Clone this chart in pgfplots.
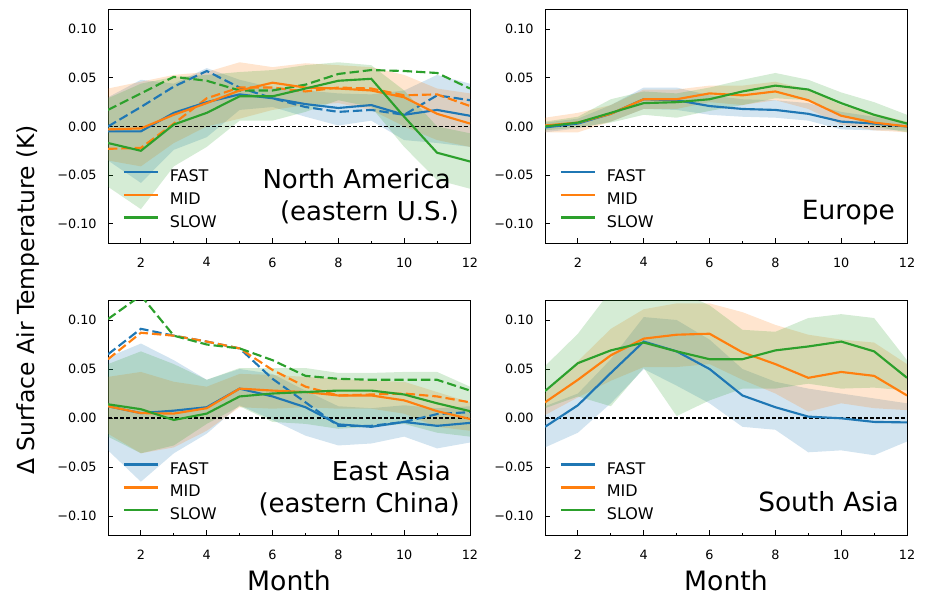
\documentclass[border=0pt]{standalone}
\usepackage{fontspec}
\setmainfont{DejaVu Sans}
\usepackage{pgfplots}
\usepackage{pgfplotstable}
\pgfplotsset{compat=1.18}
\usepgfplotslibrary{fillbetween}
\definecolor{cb}{HTML}{1F77B4}
\definecolor{co}{HTML}{FF7F0E}
\definecolor{cg}{HTML}{2CA02C}

\pgfplotstableread{
m  fa     falo   fahi  mi     milo   mihi  sl     sllo   slhi   fad    mid    sld
1  -0.005 -0.035 0.030 -0.003 -0.035 0.039 -0.017 -0.062 0.029  0.000 -0.023 0.017
2  -0.005 -0.058 0.048 -0.002 -0.041 0.046 -0.025 -0.085 0.044  0.020 -0.022 0.034
3  0.014  -0.024 0.044 0.012  -0.017 0.053 0.002  -0.041 0.051  0.041  0.003 0.051
4  0.025  -0.011 0.060 0.024  0.000  0.056 0.014  -0.021 0.053  0.057  0.029 0.047
5  0.033  0.017  0.048 0.037  0.008  0.066 0.031  0.006  0.056  0.040  0.040 0.037
6  0.029  0.020  0.040 0.045  0.017  0.061 0.031  0.006  0.058  0.029  0.040 0.037
7  0.023  0.010  0.037 0.040  0.022  0.065 0.039  0.015  0.063  0.020  0.036 0.043
8  0.019  0.001  0.034 0.039  0.024  0.063 0.047  0.027  0.066  0.015  0.040 0.054
9  0.022  0.006  0.033 0.037  0.017  0.061 0.049  0.020  0.063  0.017  0.039 0.058
10 0.012  -0.014 0.037 0.030  0.000  0.053 0.010  -0.021 0.037  0.012  0.032 0.057
11 0.017  -0.017 0.053 0.013  -0.014 0.039 -0.027 -0.055 0.000  0.032  0.033 0.055
12 0.011  -0.021 0.044 0.003  -0.021 0.034 -0.036 -0.064 -0.007 0.027  0.021 0.039
}\tabNA

\pgfplotstableread{
m  fa     falo   fahi  mi    milo   mihi  sl    sllo   slhi
1  -0.001 -0.006 0.004 0.001 -0.006 0.009 0.000 -0.004 0.005
2  0.003  -0.002 0.008 0.004 -0.006 0.014 0.004 -0.001 0.010
3  0.013  0.005  0.022 0.013 0.005  0.022 0.014 0.004  0.028
4  0.028  0.018  0.040 0.028 0.018  0.038 0.024 0.012  0.036
5  0.027  0.017  0.040 0.028 0.018  0.038 0.025 0.009  0.034
6  0.021  0.012  0.032 0.034 0.025  0.042 0.028 0.016  0.040
7  0.018  0.010  0.028 0.032 0.022  0.042 0.036 0.022  0.048
8  0.017  0.009  0.027 0.036 0.027  0.046 0.042 0.029  0.055
9  0.013  0.006  0.024 0.027 0.018  0.038 0.038 0.027  0.048
10 0.005  -0.003 0.015 0.011 0.002  0.022 0.024 0.012  0.035
11 0.003  -0.004 0.010 0.004 -0.004 0.013 0.012 0.000  0.025
12 0.000  -0.004 0.004 0.000 -0.006 0.005 0.003 -0.006 0.012
}\tabEU

\pgfplotstableread{
m  fa      falo   fahi  mi      milo   mihi   sl      sllo   slhi  fad    mid   sld
1  0.012   -0.033 0.062 0.012   -0.016 0.042  0.014   -0.019 0.055 0.065  0.060 0.101
2  0.005   -0.065 0.076 0.005   -0.036 0.047  0.009   -0.036 0.068 0.091  0.087 0.125
3  0.0075  -0.036 0.059 0.0045  -0.030 0.037  -0.002  -0.028 0.055 0.084  0.084 0.084
4  0.011   -0.016 0.039 0.010   -0.013 0.032  0.0045  -0.006 0.039 0.078  0.078 0.075
5  0.030   0.013  0.050 0.030   0.011  0.045  0.022   0.012  0.051 0.071  0.071 0.071
6  0.022   -0.002 0.045 0.028   0.0095 0.044  0.025   -0.004 0.051 0.040  0.049 0.059
7  0.011   -0.018 0.028 0.0265  0.011  0.042  0.0265  -0.006 0.051 0.016  0.032 0.043
8  -0.0065 -0.028 0.012 0.023   0.0095 0.040  0.028   -0.011 0.046 -0.008 0.023 0.040
9  -0.009  -0.026 0.010 0.023   0.0095 0.038  0.028   -0.009 0.046 -0.008 0.024 0.039
10 -0.004  -0.019 0.013 0.018   0.0044 0.037  0.024   -0.006 0.047 -0.004 0.025 0.039
11 -0.008  -0.031 0.010 0.007   -0.009 0.0265 0.015   -0.015 0.047 0.004  0.022 0.039
12 -0.005  -0.025 0.012 -0.001  -0.013 0.016  0.007   -0.019 0.032 0.006  0.016 0.028
}\tabEA

\pgfplotstableread{
m  fa      falo   fahi  mi    milo  mihi  sl     sllo  slhi
1  -0.009  -0.030 0.012 0.016 0.003 0.025 0.0275 0.010 0.053
2  0.013   -0.015 0.025 0.039 0.021 0.058 0.056  0.022 0.086
3  0.046   0.015  0.060 0.064 0.038 0.091 0.069  0.012 0.130
4  0.078   0.050  0.103 0.081 0.052 0.111 0.077  0.051 0.130
5  0.068   0.033  0.100 0.085 0.052 0.117 0.068  0.002 0.130
6  0.050   0.015  0.080 0.086 0.055 0.117 0.060  0.018 0.115
7  0.023   -0.009 0.050 0.067 0.039 0.108 0.060  0.030 0.090
8  0.011   -0.012 0.037 0.055 0.025 0.095 0.069  0.030 0.088
9  0.0014  -0.035 0.030 0.041 0.0065 0.085 0.073 0.035 0.102
10 -0.0003 -0.033 0.025 0.047 0.015 0.080 0.078  0.030 0.106
11 -0.004  -0.038 0.020 0.043 0.010 0.077 0.068  0.031 0.102
12 -0.0045 -0.024 0.015 0.023 0.008 0.055 0.041  0.028 0.059
}\tabSA

\newcommand{\bands}[1]{%
  \addplot[draw=none, name path=fahi, forget plot] table[x=m,y=fahi]{#1};
  \addplot[draw=none, name path=falo, forget plot] table[x=m,y=falo]{#1};
  \addplot[fill=cb, fill opacity=0.2, draw=none, forget plot] fill between[of=fahi and falo];
  \addplot[draw=none, name path=mihi, forget plot] table[x=m,y=mihi]{#1};
  \addplot[draw=none, name path=milo, forget plot] table[x=m,y=milo]{#1};
  \addplot[fill=co, fill opacity=0.2, draw=none, forget plot] fill between[of=mihi and milo];
  \addplot[draw=none, name path=slhi, forget plot] table[x=m,y=slhi]{#1};
  \addplot[draw=none, name path=sllo, forget plot] table[x=m,y=sllo]{#1};
  \addplot[fill=cg, fill opacity=0.2, draw=none, forget plot] fill between[of=slhi and sllo];
  \addplot[black, line width=0.8pt, dash pattern=on 3pt off 1.6pt, forget plot] coordinates {(1,0) (12,0)};
}
\newcommand{\dashedlines}[1]{%
  \addplot[cb, line width=1.6pt, dash pattern=on 7pt off 3pt, forget plot] table[x=m,y=fad]{#1};
  \addplot[co, line width=1.6pt, dash pattern=on 7pt off 3pt, forget plot] table[x=m,y=mid]{#1};
  \addplot[cg, line width=1.6pt, dash pattern=on 7pt off 3pt, forget plot] table[x=m,y=sld]{#1};
}
\newcommand{\solidlines}[1]{%
  \addplot[cb, line width=1.6pt, forget plot] table[x=m,y=fa]{#1};
  \addplot[co, line width=1.6pt, forget plot] table[x=m,y=mi]{#1};
  \addplot[cg, line width=1.6pt, forget plot] table[x=m,y=sl]{#1};
}
\newcommand{\legendentries}{%
  \addlegendimage{cb, line width=1.9pt}\addlegendentry{FAST}
  \addlegendimage{co, line width=1.9pt}\addlegendentry{MID}
  \addlegendimage{cg, line width=1.9pt}\addlegendentry{SLOW}
}

\pgfplotsset{panel/.style={
  scale only axis, width=271.5pt,
  xmin=1, xmax=12, ymin=-0.12, ymax=0.12,
  xtick={2,4,...,12}, xticklabels={2,4,6,8,10,12},
  minor xtick={3,5,...,11},
  ytick={-0.1,-0.05,0,0.05,0.1},
  yticklabels={−0.10,−0.05,0.00,0.05,0.10},
  tick align=inside, tick pos=left,
  major tick length=4pt, minor tick length=2pt,
  every tick/.style={black, line width=0.75pt},
  axis line style={line width=0.75pt, black},
  ticklabel style={font=\fontsize{9.6}{11}\selectfont},
  yticklabel style={xshift=-5pt},
  xticklabel style={yshift=-7.3pt},
  legend cell align=left,
  legend image code/.code={\draw[##1] (0pt,3.6pt) -- (25.5pt,3.6pt);},
  legend style={draw=none, fill=none, at={(0,0)}, anchor=south west,
    xshift=11pt, yshift=10.3pt, inner sep=0pt, outer sep=0pt,
    row sep=6.75pt, column sep=8pt,
    font=\fontsize{12}{14}\selectfont, nodes={inner sep=0pt}},
}}

\begin{document}
\begin{tikzpicture}
\path (0,0) rectangle (693.75pt,-447pt);

% North America
\begin{axis}[panel, height=175.1pt, at={(81pt,-182.4pt)}, anchor=south west]
\legendentries
\bands{\tabNA}
\dashedlines{\tabNA}
\solidlines{\tabNA}
\node[anchor=base east, font=\fontsize{19.5}{23}\selectfont, inner sep=0pt, xshift=-14.25pt, yshift=41.25pt] at (rel axis cs:1,0) {North America};
\node[anchor=base east, font=\fontsize{19.5}{23}\selectfont, inner sep=0pt, xshift=-8pt, yshift=17.25pt] at (rel axis cs:1,0) {(eastern U.S.)};
\end{axis}

% Europe
\begin{axis}[panel, height=175.1pt, at={(408.75pt,-182.4pt)}, anchor=south west]
\legendentries
\bands{\tabEU}
\solidlines{\tabEU}
\node[anchor=base east, font=\fontsize{19.8}{23}\selectfont, inner sep=0pt, xshift=-9pt, yshift=18pt] at (rel axis cs:1,0) {Europe};
\end{axis}

% East Asia
\begin{axis}[panel, height=176.4pt, at={(81pt,-401.7pt)}, anchor=south west,
  xlabel={Month}, xlabel style={font=\fontsize{20}{24}\selectfont, at={(axis description cs:0.5,0)}, anchor=base, yshift=-41.5pt, inner sep=0pt}]
\legendentries
\bands{\tabEA}
\dashedlines{\tabEA}
\solidlines{\tabEA}
\node[anchor=base east, font=\fontsize{19.5}{23}\selectfont, inner sep=0pt, xshift=-14.25pt, yshift=41.25pt] at (rel axis cs:1,0) {East Asia};
\node[anchor=base east, font=\fontsize{19.5}{23}\selectfont, inner sep=0pt, xshift=-7.5pt, yshift=17.25pt] at (rel axis cs:1,0) {(eastern China)};
\end{axis}

% South Asia
\begin{axis}[panel, height=176.4pt, at={(408.75pt,-401.7pt)}, anchor=south west,
  xlabel={Month}, xlabel style={font=\fontsize{20}{24}\selectfont, at={(axis description cs:0.5,0)}, anchor=base, yshift=-41.5pt, inner sep=0pt}]
\legendentries
\bands{\tabSA}
\solidlines{\tabSA}
\node[anchor=base east, font=\fontsize{19.8}{23}\selectfont, inner sep=0pt, xshift=-6pt, yshift=18pt] at (rel axis cs:1,0) {South Asia};
\end{axis}

\node[rotate=90, anchor=center, font=\fontsize{17.6}{21}\selectfont, inner sep=0pt] at (20.7pt,-225pt) {Δ Surface Air Temperature (K)};
\end{tikzpicture}
\end{document}
